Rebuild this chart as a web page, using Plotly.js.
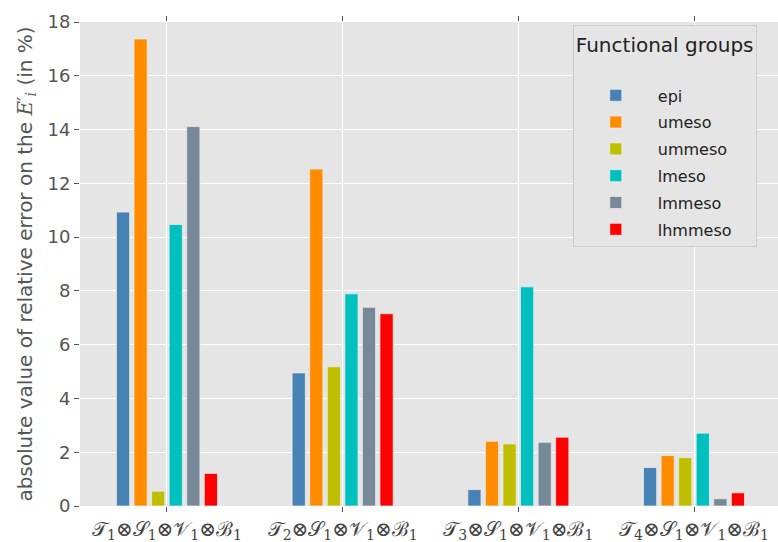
<!DOCTYPE html>
<html>
<head>
<meta charset="utf-8">
<script src="https://cdn.plot.ly/plotly-3.0.1.min.js"></script>
<style>html,body{margin:0;padding:0;background:#fff;}</style>
</head>
<body>
<div id="chart" style="width:778px;height:542px;"></div>
<script>
// Categories (tensor-product model structures)
const categories = [
  "𝒯<sub>1</sub>⊗𝒮<sub>1</sub>⊗𝒱<sub>1</sub>⊗ℬ<sub>1</sub>",
  "𝒯<sub>2</sub>⊗𝒮<sub>1</sub>⊗𝒱<sub>1</sub>⊗ℬ<sub>1</sub>",
  "𝒯<sub>3</sub>⊗𝒮<sub>1</sub>⊗𝒱<sub>1</sub>⊗ℬ<sub>1</sub>",
  "𝒯<sub>4</sub>⊗𝒮<sub>1</sub>⊗𝒱<sub>1</sub>⊗ℬ<sub>1</sub>"
];
const categoryPositions = [0, 1, 2, 3];

// Series values (absolute relative error, %)
const epi     = [10.93, 4.95, 0.61, 1.43];
const umeso   = [17.37, 12.53, 2.41, 1.88];
const ummeso  = [0.55, 5.18, 2.31, 1.80];
const lmeso   = [10.47, 7.89, 8.15, 2.71];
const lmmeso  = [14.11, 7.39, 2.37, 0.27];
const lhmmeso = [1.21, 7.15, 2.56, 0.49];

const seriesNames = ["epi", "umeso", "ummeso", "lmeso", "lmmeso", "lhmmeso"];
const seriesValues = [epi, umeso, ummeso, lmeso, lmmeso, lhmmeso];
const seriesColors = ["#4682B4", "#FF8C00", "#BFBF00", "#00BFBF", "#778899", "#FF0000"];

const yTickVals = [0, 2, 4, 6, 8, 10, 12, 14, 16, 18];

const traces = seriesNames.map((name, i) => ({
  type: "bar",
  name: name,
  x: categoryPositions,
  y: seriesValues[i],
  legendgroup: name,
  marker: { color: seriesColors[i], line: { color: "rgba(238,238,238,0.9)", width: 0.8 } },
  hoverinfo: "x+y+name"
}));

const layout = {
  width: 778,
  height: 542,
  margin: { l: 80, r: 0, t: 22, b: 36, pad: 0 },
  paper_bgcolor: "#FFFFFF",
  plot_bgcolor: "#E5E5E5",
  font: { family: "DejaVu Sans, sans-serif", color: "#555555", size: 17 },
  barmode: "group",
  bargap: 0.4,
  bargroupgap: 0.25,
  xaxis: {
    range: [-0.495, 3.478],
    tickmode: "array",
    tickvals: categoryPositions,
    ticktext: categories,
    showgrid: true,
    gridcolor: "#FFFFFF",
    gridwidth: 1,
    zeroline: false,
    showline: false,
    ticks: "outside",
    ticklen: 5,
    tickwidth: 1,
    tickcolor: "#555555",
    mirror: "ticks",
    tickfont: { family: "DejaVu Serif, serif", size: 20, color: "#444444" }
  },
  yaxis: {
    range: [0, 18],
    tickmode: "array",
    tickvals: yTickVals,
    showgrid: true,
    gridcolor: "#FFFFFF",
    gridwidth: 1,
    zeroline: false,
    showline: false,
    ticks: "outside",
    ticklen: 5,
    tickwidth: 1,
    tickcolor: "#555555",
    tickfont: { size: 18, color: "#555555" },
    title: {
      text: "absolute value of relative error on the <span style=\"font-family:DejaVu Serif\"><i>E</i>′<sub><i>i</i></sub></span> (in %)",
      font: { size: 20, color: "#555555" },
      standoff: 9
    }
  },
  legend: {
    x: 0.706,
    y: 0.993,
    xanchor: "left",
    yanchor: "top",
    bgcolor: "#E5E5E5",
    bordercolor: "#CCCCCC",
    borderwidth: 1,
    font: { size: 16, color: "#222222" },
    tracegroupgap: 3,
    itemwidth: 74,
    title: { text: "Functional groups<br> ", font: { size: 20, color: "#222222" }, side: "top" }
  }
};

Plotly.newPlot("chart", traces, layout, { displayModeBar: false, staticPlot: true });
</script>
</body>
</html>
